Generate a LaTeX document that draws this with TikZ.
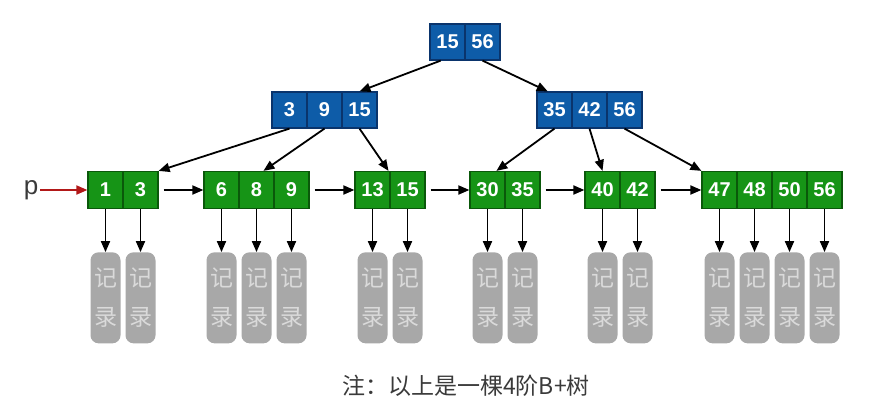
\documentclass[tikz,border=0pt]{standalone}
\usepackage{fontspec}
\setmainfont{Liberation Sans}
\newfontfamily\cjk{Noto Sans CJK SC}
\usepackage{xcolor}
\usetikzlibrary{arrows.meta, positioning}
\definecolor{innerfill}{RGB}{14,92,168}
\definecolor{innerline}{RGB}{10,52,108}
\definecolor{leaffill}{RGB}{22,148,22}
\definecolor{leafline}{RGB}{10,88,10}
\definecolor{recfill}{RGB}{168,168,168}
\definecolor{rectext}{RGB}{218,218,218}
\definecolor{pred}{RGB}{178,24,24}
\definecolor{note}{RGB}{58,58,58}
\begin{document}
\begin{tikzpicture}[x=1pt, y=-1pt,
  inkey/.style={draw=innerline, fill=innerfill, line width=1.2pt,
                minimum width=35pt, minimum height=36pt, inner sep=0pt,
                text=white, font=\fontsize{20}{20}\selectfont\bfseries},
  leafkey/.style={draw=leafline, fill=leaffill, line width=1.2pt,
                  minimum width=35pt, minimum height=37pt, inner sep=0pt,
                  text=white, font=\fontsize{20}{20}\selectfont\bfseries},
  rec/.style={fill=recfill, rounded corners=8pt, minimum width=30pt,
              minimum height=91pt, inner sep=0pt, align=center,
              text=rectext, font=\cjk\fontsize{23}{39}\selectfont},
  ptr/.style={-{Triangle[length=11pt, width=9pt]}, line width=1.8pt, draw=black}
]
\useasboundingbox (0,0) rectangle (886,410);

% root
\foreach \v [count=\i] in {15,56}{
  \node[inkey] (r\i) at (412.5+\i*35, 42) {\v};
}

% inner nodes
\foreach \v [count=\i] in {3,9,15}{
  \node[inkey] (a\i) at (254.5+\i*35, 110) {\v};
}
\foreach \v [count=\i] in {35,42,56}{
  \node[inkey] (b\i) at (519.5+\i*35, 110) {\v};
}

% leaves
\foreach \n/\x/\keys in {1/70.5/{1,3}, 2/186.5/{6,8,9}, 3/337.5/{13,15},
                         4/452.5/{30,35}, 5/567.5/{40,42}, 6/684.5/{47,48,50,56}}{
  \foreach \v [count=\i] in \keys{
    \node[leafkey] (l\n-\i) at (\x+\i*35, 190) {\v};
    \node[rec, below=43pt of l\n-\i] (rec\n-\i) {记\\录};
    \draw[ptr] (l\n-\i) -- (rec\n-\i);
  }
}

% tree pointers
\draw[ptr] (r1.250) -- (a3.north);
\draw[ptr] (r2.south) -- (b1.110);
\draw[ptr] (a1.south) -- (l1-2.north east);
\draw[ptr] (a2.south) -- (l2-2.70);
\draw[ptr] (a3.south) -- (l3-1.50);
\draw[ptr] (b1.south) -- (l4-1.65);
\draw[ptr] (b2.south) -- (l5-1.north);
\draw[ptr] (b3.south) -- (l6-1.north west);

% leaf chain
\draw[ptr, shorten <=5pt] (l1-2) -- (l2-1);
\draw[ptr, shorten <=5pt] (l2-3) -- (l3-1);
\draw[ptr, shorten <=5pt] (l3-2) -- (l4-1);
\draw[ptr, shorten <=5pt] (l4-2) -- (l5-1);
\draw[ptr, shorten <=5pt] (l5-2) -- (l6-1);

% head pointer
\node[inner sep=2pt, text=note, font=\fontsize{26}{26}\selectfont] (p) at (31, 190) {p};
\draw[ptr, draw=pred, color=pred] (p.east |- l1-1) -- (l1-1.west);

\node[text=note, font=\cjk\fontsize{23}{23}\selectfont] (caption) at (466, 386) {注：以上是一棵4阶B+树};
\end{tikzpicture}
\end{document}
